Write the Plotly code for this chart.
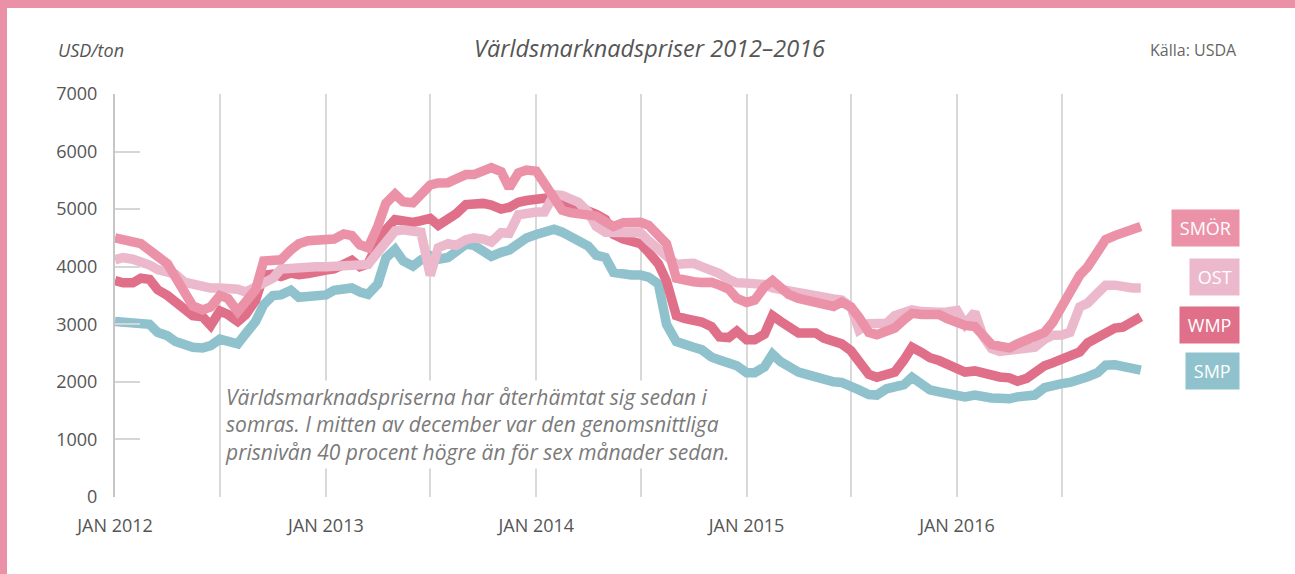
import pandas as pd
import plotly.graph_objects as go

# Semi-monthly observation dates (1st and 15th), Jan 2012 - Nov 2016
dates = pd.date_range("2012-01-01", periods=118, freq="SMS")

smor = [4500, 4450, 4430, 4400, 4260, 4180, 4050, 3800, 3500, 3320,
        3250, 3300, 3500, 3450, 3220, 3370, 3600, 4100, 4100, 4120,
        4290, 4400, 4450, 4470, 4460, 4480, 4570, 4540, 4380, 4330,
        4700, 5100, 5260, 5130, 5110, 5230, 5420, 5455, 5460, 5525,
        5600, 5600, 5650, 5720, 5650, 5370, 5630, 5680, 5660, 5430,
        5150, 4980, 4940, 4915, 4905, 4880, 4780, 4700, 4765, 4775,
        4770, 4720, 4560, 4400, 3800, 3790, 3740, 3725, 3730, 3680,
        3610, 3450, 3380, 3420, 3650, 3760, 3650, 3520, 3450, 3415,
        3350, 3320, 3310, 3385, 3300, 3120, 2860, 2820, 2900, 2935,
        3080, 3190, 3170, 3180, 3170, 3100, 3010, 2980, 2960, 2780,
        2650, 2620, 2590, 2660, 2730, 2790, 2860, 3030, 3300, 3530,
        3850, 4000, 4250, 4470, 4540, 4600, 4650, 4700]

ost = [4120, 4160, 4130, 4100, 4030, 3950, 3910, 3870, 3730, 3690,
       3640, 3630, 3630, 3630, 3610, 3560, 3650, 3740, 3800, 3960,
       3980, 3980, 3990, 4000, 4000, 4000, 4000, 4000, 4020, 4040,
       4250, 4400, 4620, 4640, 4640, 4600, 3850, 4330, 4400, 4370,
       4470, 4500, 4480, 4430, 4590, 4580, 4900, 4940, 4950, 4950,
       5250, 5240, 5180, 5120, 4950, 4700, 4600, 4600, 4620, 4630,
       4590, 4450, 4300, 4200, 4040, 4050, 4060, 4000, 3950, 3880,
       3780, 3720, 3715, 3715, 3690, 3630, 3600, 3560, 3540, 3530,
       3500, 3470, 3440, 3420, 3300, 2900, 3010, 3020, 3020, 3150,
       3200, 3250, 3220, 3200, 3210, 3215, 3240, 3000, 3210, 2800,
       2580, 2530, 2555, 2555, 2560, 2600, 2740, 2810, 2815, 2860,
       3300, 3370, 3540, 3680, 3680, 3640, 3630, 3630]

wmp = [3760, 3720, 3720, 3800, 3780, 3600, 3500, 3400, 3250, 3150,
       3130, 2980, 3230, 3170, 3050, 3170, 3420, 3850, 3870, 3830,
       3890, 3860, 3880, 3920, 3940, 3960, 4060, 4110, 4000, 4050,
       4400, 4640, 4820, 4800, 4770, 4800, 4840, 4720, 4820, 4920,
       5080, 5100, 5100, 5070, 5000, 5030, 5120, 5150, 5170, 5200,
       5210, 5150, 5100, 5040, 4980, 4910, 4820, 4560, 4480, 4460,
       4400, 4250, 4050, 3750, 3150, 3100, 3080, 3040, 2960, 2780,
       2770, 2880, 2730, 2730, 2830, 3150, 3050, 2940, 2850, 2850,
       2850, 2760, 2710, 2660, 2540, 2380, 2130, 2080, 2150, 2170,
       2380, 2600, 2510, 2420, 2370, 2300, 2230, 2170, 2190, 2150,
       2100, 2085, 2070, 2010, 2060, 2180, 2280, 2330, 2380, 2430,
       2520, 2680, 2780, 2860, 2935, 2950, 3060, 3130]

smp = [3050, 3040, 3030, 3010, 3000, 2860, 2800, 2700, 2640, 2600,
       2590, 2630, 2740, 2720, 2660, 2840, 3050, 3340, 3500, 3510,
       3590, 3470, 3480, 3510, 3510, 3590, 3630, 3630, 3560, 3520,
       3700, 4150, 4300, 4100, 4010, 4120, 4190, 4130, 4160, 4260,
       4390, 4370, 4270, 4180, 4250, 4290, 4400, 4500, 4560, 4600,
       4650, 4600, 4520, 4430, 4360, 4200, 4160, 3900, 3860, 3855,
       3855, 3820, 3700, 3000, 2700, 2640, 2600, 2560, 2430, 2380,
       2320, 2280, 2160, 2160, 2260, 2480, 2350, 2250, 2170, 2130,
       2080, 2010, 2000, 1990, 1940, 1860, 1780, 1770, 1880, 1895,
       1950, 2080, 1940, 1860, 1825, 1810, 1780, 1740, 1770, 1730,
       1720, 1715, 1705, 1740, 1760, 1770, 1900, 1945, 1970, 1990,
       2030, 2090, 2160, 2290, 2295, 2270, 2240, 2205]

series_names = ["SMÖR", "OST", "WMP", "SMP"]
series_colors = ["#EB92A8", "#ECB9CC", "#E0708A", "#8FC2CC"]

year_ticks = ["2012-01-01", "2013-01-01", "2014-01-01", "2015-01-01", "2016-01-01"]
year_labels = ["JAN 2012", "JAN 2013", "JAN 2014", "JAN 2015", "JAN 2016"]

title_text = "Världsmarknadspriser 2012–2016"
unit_text = "USD/ton"
source_text = "Källa: USDA"
note_text = ("Världsmarknadspriserna har återhämtat sig sedan i<br>"
             "somras. I mitten av december var den genomsnittliga<br>"
             "prisnivån 40 procent högre än för sex månader sedan.")

FONT = "Open Sans"
W, H = 1295, 574
ML, MR, MT, MB = 115, 145, 94, 77
PW = W - ML - MR
PH = H - MT - MB


def px_x(p):
    return (p - ML) / PW


def px_y(p):
    return (H - MB - p) / PH


fig = go.Figure()
values = {"SMÖR": smor, "OST": ost, "WMP": wmp, "SMP": smp}
for name in ["SMP", "WMP", "OST", "SMÖR"]:
    c = series_colors[series_names.index(name)]
    fig.add_trace(go.Scatter(x=dates, y=values[name], mode="lines", name=name,
                             line=dict(color=c, width=9.5), hoverinfo="skip"))

fig.update_layout(
    width=W, height=H,
    margin=dict(l=ML, r=MR, t=MT, b=MB),
    paper_bgcolor="white", plot_bgcolor="white",
    showlegend=False,
    font=dict(family=FONT, color="#555555"),
    xaxis=dict(
        range=["2012-01-01", "2016-12-01"],
        tickmode="array", tickvals=year_ticks, ticktext=year_labels,
        showgrid=True, gridcolor="#d9d9d9", gridwidth=2,
        minor=dict(dtick="M6", tick0="2012-01-01", showgrid=True,
                   gridcolor="#d9d9d9", gridwidth=2),
        showline=False, zeroline=False, ticks="",
        tickfont=dict(family=FONT, size=18, color="#555555"),
        ticklabelstandoff=16,
    ),
    yaxis=dict(
        range=[0, 7000], dtick=1000, showgrid=False, zeroline=False,
        showline=True, linecolor="#c6c6c6", linewidth=2,
        ticks="inside", ticklen=25, tickwidth=2, tickcolor="#d6d6d6",
        tickfont=dict(family=FONT, size=18, color="#555555"),
        ticklabelstandoff=12,
    ),
)

ann = []
ann.append(dict(text=title_text, xref="paper", yref="paper", x=px_x(649), y=px_y(48),
                xanchor="center", yanchor="middle", showarrow=False,
                font=dict(family=FONT, size=23.5, color="#555555", style="italic")))
ann.append(dict(text=unit_text, xref="paper", yref="paper", x=px_x(56), y=px_y(50),
                xanchor="left", yanchor="middle", showarrow=False,
                font=dict(family=FONT, size=18, color="#555555", style="italic")))
ann.append(dict(text=source_text, xref="paper", yref="paper", x=px_x(1239), y=px_y(50),
                xanchor="right", yanchor="middle", showarrow=False,
                font=dict(family=FONT, size=16, color="#666666")))
ann.append(dict(text=note_text, xref="paper", yref="paper", x=px_x(222), y=px_y(380),
                xanchor="left", yanchor="top", align="left", showarrow=False,
                bgcolor="white", borderpad=2,
                font=dict(family=FONT, size=21, color="#7a7a7a", style="italic")))
label_y = {"SMÖR": 228, "OST": 277, "WMP": 325, "SMP": 371}
for name, c in zip(series_names, series_colors):
    ann.append(dict(text="\u200a" + name + "\u200a", xref="paper", yref="paper",
                    x=px_x(1240), y=px_y(label_y[name]),
                    xanchor="right", yanchor="middle", showarrow=False,
                    bgcolor=c, borderpad=6,
                    font=dict(family=FONT, size=18, color="white")))
fig.update_layout(annotations=ann)

border = "#EA91A7"
fig.add_shape(type="rect", xref="paper", yref="paper",
              x0=px_x(0), x1=px_x(7), y0=px_y(H + 2), y1=px_y(-2),
              fillcolor=border, line=dict(width=0), layer="above")
fig.add_shape(type="rect", xref="paper", yref="paper",
              x0=px_x(0), x1=px_x(W + 2), y0=px_y(8), y1=px_y(-2),
              fillcolor=border, line=dict(width=0), layer="above")

fig.write_html("out.html", config={"displayModeBar": False},
               post_script="document.body.style.margin='0';document.body.style.padding='0';")
